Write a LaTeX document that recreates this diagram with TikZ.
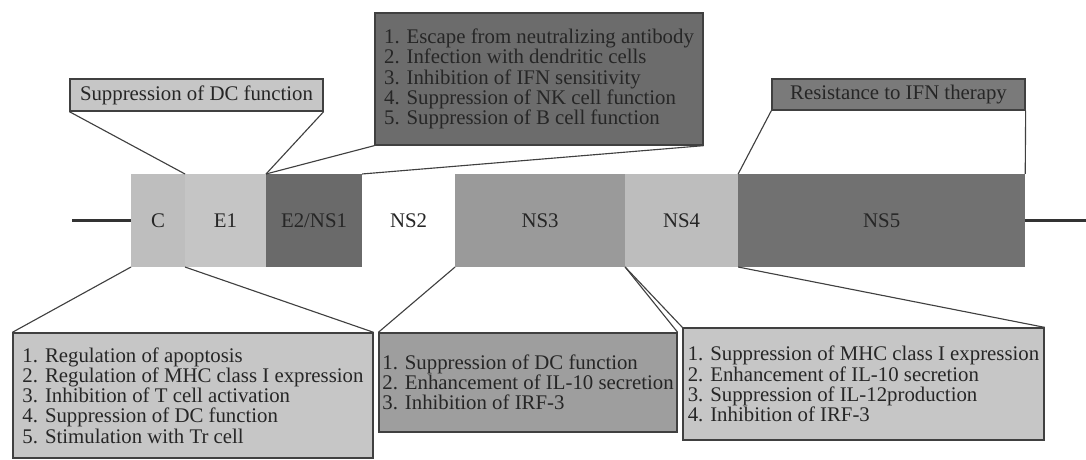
\documentclass[tikz,border=0pt]{standalone}
\usepackage{fontspec}
\setmainfont{Liberation Serif}
\usetikzlibrary{positioning}
\definecolor{geneC}{HTML}{BEBEBE}
\definecolor{geneE}{HTML}{C5C5C5}
\definecolor{geneDark}{HTML}{6A6A6A}
\definecolor{geneMid}{HTML}{9A9A9A}
\definecolor{geneLight}{HTML}{BDBDBD}
\definecolor{geneFive}{HTML}{717171}
\definecolor{boxLight}{HTML}{C6C6C6}
\definecolor{boxMid}{HTML}{9E9E9E}
\definecolor{boxDark}{HTML}{6C6C6C}
\definecolor{boxIFN}{HTML}{7A7A7A}
\tikzset{
    gene/.style={inner sep=0pt, outer sep=0pt, minimum height=2.325cm, font=\fontsize{14.8}{14.4}\selectfont, text=black!85},
    callout/.style={draw=black!75, line width=0.9pt, align=left, inner sep=0pt, font=\fontsize{14.8}{14.4}\selectfont, text=black!85},
    link/.style={draw=black!75, line width=0.8pt},
    genome/.style={draw=black!80, line width=2.6pt}
}
\begin{document}
\begin{tikzpicture}[x=0.025cm, y=-0.025cm]
    \useasboundingbox (0,0) rectangle (1086,460);
    \node[gene, fill=geneC, minimum width=1.35cm] (C) at (158,220.5) {C};
    \node[gene, fill=geneE, minimum width=2.025cm, right=0pt of C] (E1) {E1};
    \node[gene, fill=geneDark, minimum width=2.4cm, right=0pt of E1] (E2NS1) {E2/NS1};
    \node[gene, fill=white, minimum width=2.325cm, right=0pt of E2NS1] (NS2) {NS2};
    \node[gene, fill=geneMid, minimum width=4.25cm, right=0pt of NS2] (NS3) {NS3};
    \node[gene, fill=geneLight, minimum width=2.825cm, right=0pt of NS3] (NS4) {NS4};
    \node[gene, fill=geneFive, minimum width=7.175cm, right=0pt of NS4] (NS5) {NS5};
    \coordinate (L) at (72,220.5);
    \coordinate (R) at (1086,220.5);
    \draw[genome] (L) -- (C.west);
    \draw[genome] (NS5.east) -- (R);

    \node[callout, fill=boxLight, minimum width=6.325cm, minimum height=0.8cm] (dcfun) at (196.5,95) {Suppression of DC function};
    \node[callout, fill=boxDark, minimum width=8.2cm, minimum height=3.3cm] (escape) at (539,79) {1. Escape from neutralizing antibody\\2. Infection with dendritic cells\\3. Inhibition of IFN sensitivity\\4. Suppression of NK cell function\\5. Suppression of B cell function};
    \node[callout, fill=boxIFN, minimum width=6.325cm, minimum height=0.775cm] (ifn) at (898.5,94.5) {Resistance to IFN therapy};
    \node[callout, fill=boxLight, minimum width=9cm, minimum height=3.125cm] (core) at (193,395.5) {1. Regulation of apoptosis\\2. Regulation of MHC class I expression\\3. Inhibition of T cell activation\\4. Suppression of DC function\\5. Stimulation with Tr cell};
    \node[callout, fill=boxMid, minimum width=7.45cm, minimum height=2.475cm] (ns3fun) at (528,382.5) {1. Suppression of DC function\\2. Enhancement of IL-10 secretion\\3. Inhibition of IRF-3};
    \node[callout, fill=boxLight, minimum width=9.025cm, minimum height=2.8cm] (ns4fun) at (863.5,384) {1. Suppression of MHC class I expression\\2. Enhancement of IL-10 secretion\\3. Suppression of IL-12production\\4. Inhibition of IRF-3};

    \draw[link] (dcfun.south west) -- (E1.north west) (dcfun.south east) -- (E1.north east);
    \draw[link] (escape.south west) -- (E2NS1.north west) (escape.south east) -- (E2NS1.north east);
    \draw[link] (ifn.south west) -- (NS5.north west) (ifn.south east) -- (NS5.north east);
    \draw[link] (core.north west) -- (C.south west) (core.north east) -- (C.south east);
    \draw[link] (ns3fun.north west) -- (NS3.south west) (ns3fun.north east) -- (NS3.south east);
    \draw[link] (ns4fun.north west) -- (NS4.south west) (ns4fun.north east) -- (NS4.south east);
\end{tikzpicture}
\end{document}
